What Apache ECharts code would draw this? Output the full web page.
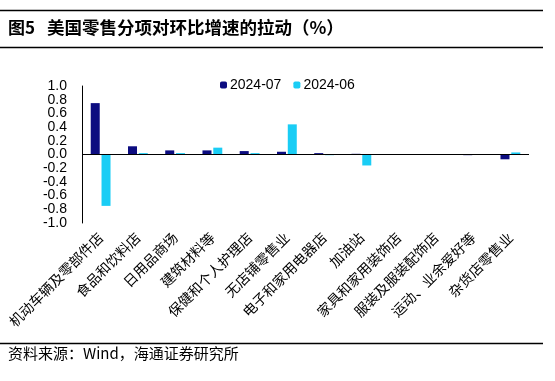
<!DOCTYPE html>
<html>
<head>
<meta charset="utf-8">
<script src="https://cdn.jsdelivr.net/npm/echarts@6/dist/echarts.min.js"></script>
<style>html,body{margin:0;padding:0;background:#fff;}#c{width:555px;height:381px;}</style>
</head>
<body>
<div id="c"></div>
<script>
const categories = ['机动车辆及零部件店','食品和饮料店','日用品商场','建筑材料等','保健和个人护理店','无店铺零售业','电子和家用电器店','加油站','家具和家用装饰店','服装及服装配饰店','运动、业余爱好等','杂货店零售业'];
const seriesNames = ['2024-07','2024-06'];
const jul = [0.75, 0.12, 0.06, 0.06, 0.05, 0.04, 0.02, 0.01, 0.005, 0.0, -0.01, -0.07];
const jun = [-0.75, 0.02, 0.02, 0.10, 0.02, 0.44, -0.01, -0.16, 0.0, 0.0, 0.0, 0.03];
const yTicks = {min: -1, max: 1, step: 0.2};
const titleNo = '图5';
const titleText = '美国零售分项对环比增速的拉动（%）';
const sourceText = '资料来源：Wind，海通证券研究所';

const chart = echarts.init(document.getElementById('c'), null, {renderer: 'canvas'});
const cjk = '"Noto Sans CJK SC", sans-serif';
const latin = 'Arial, "Liberation Sans", sans-serif';
const tickIdx = v => Math.round((v - yTicks.min) / yTicks.step);
function yAxisFor(parity, showLine) {
  return {
    type: 'value', position: 'left', offset: 0,
    min: yTicks.min, max: yTicks.max, interval: yTicks.step,
    axisLine: {show: showLine, onZero: false, lineStyle: {color: '#000', width: 1}},
    axisTick: {show: false},
    splitLine: {show: false},
    axisLabel: {
      showMinLabel: true, showMaxLabel: true, margin: 15,
      fontFamily: latin, fontSize: 14, color: '#000',
      formatter: v => (tickIdx(v) % 2 === parity) ? v.toFixed(1) : ''
    }
  };
}
chart.setOption({
  animation: false,
  backgroundColor: '#fff',
  graphic: [
    {type: 'line', shape: {x1: 0, y1: 10.5, x2: 543, y2: 10.5}, style: {stroke: '#000', lineWidth: 1.5}},
    {type: 'line', shape: {x1: 0, y1: 47.5, x2: 543, y2: 47.5}, style: {stroke: '#000', lineWidth: 1.5}},
    {type: 'line', shape: {x1: 0, y1: 343.5, x2: 543, y2: 343.5}, style: {stroke: '#000', lineWidth: 1.5}},
    {type: 'text', left: 8, top: 19, style: {text: titleNo, font: 'bold 17px ' + cjk, fill: '#000'}},
    {type: 'text', left: 47, top: 19, style: {text: titleText, font: 'bold 17.5px ' + cjk, fill: '#000'}},
    {type: 'text', left: 8, top: 346, style: {text: sourceText, font: '15px ' + cjk, fill: '#000'}}
  ],
  legend: {
    top: 73, left: 215,
    itemWidth: 7, itemHeight: 7, itemGap: 12,
    textStyle: {fontFamily: latin, fontSize: 14, color: '#000', padding: [0,0,0,-2]},
    data: seriesNames
  },
  grid: {left: 82, right: 26, top: 86, bottom: 158},
  xAxis: {
    type: 'category', data: categories,
    axisLine: {show: false, onZero: false},
    axisTick: {show: false},
    axisLabel: {rotate: 45, interval: 0, margin: 12, fontFamily: cjk, fontSize: 14, color: '#000'}
  },
  yAxis: [yAxisFor(0, true), yAxisFor(1, false)],
  series: [
    {name: seriesNames[0], type: 'bar', yAxisIndex: 0, data: jul, barWidth: 9, barGap: '20%', itemStyle: {color: '#0C0C80'},
     markLine: {silent: true, symbol: 'none', label: {show: false}, lineStyle: {color: '#000', type: 'solid', width: 1}, data: [{yAxis: 0}]}},
    {name: seriesNames[1], type: 'bar', yAxisIndex: 0, data: jun, barWidth: 9, itemStyle: {color: '#1ACDF5'}}
  ]
});
</script>
</body>
</html>
